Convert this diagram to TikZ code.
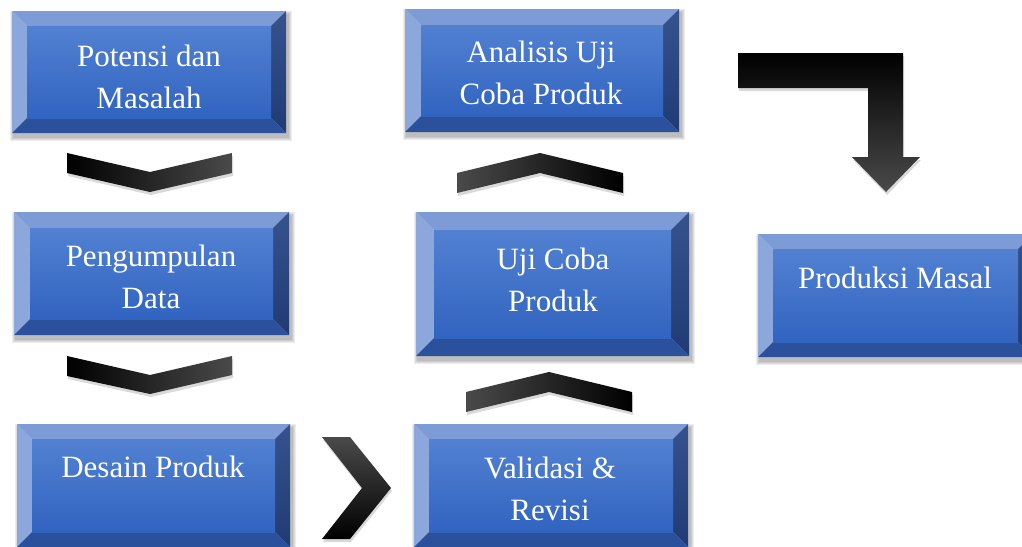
\documentclass[tikz,border=0pt]{standalone}
\usepackage{fontspec}
\setmainfont{Liberation Serif}
\usetikzlibrary{shadows}
\definecolor{faceT}{HTML}{5281D2}
\definecolor{faceB}{HTML}{3164C0}
\definecolor{bevT}{HTML}{7D9CD7}
\definecolor{bevL}{HTML}{8CA7DC}
\definecolor{bevRT}{HTML}{36538E}
\definecolor{bevRB}{HTML}{203B74}
\definecolor{bevB}{HTML}{2B509C}
\definecolor{chgrey}{HTML}{4A4A4A}
\tikzset{
  softshadow/.style={fill=black, opacity=0.07},
  chshadow/.style={drop shadow={shadow xshift=1pt, shadow yshift=-3pt, opacity=0.15, fill=black}},
  txt/.style={text=white, font=\fontsize{31}{42}\selectfont, align=center, anchor=base, inner sep=0pt},
  boxnode/.style={inner sep=0pt, draw=none},
}
\newcommand\bevbox[6]{%
  \foreach \s in {1,2,3,4}{
    \fill[softshadow] (#2+2-\s,#3+4-\s) rectangle (#4+2+\s,#5+4+\s);
  }
  \fill[bevT] (#2,#3) -- (#4,#3) -- (#4-#6,#3+#6) -- (#2+#6,#3+#6) -- cycle;
  \fill[bevL] (#2,#3) -- (#2+#6,#3+#6) -- (#2+#6,#5-#6) -- (#2,#5) -- cycle;
  \shade[top color=bevRT, bottom color=bevRB] (#4,#3) -- (#4,#5) -- (#4-#6,#5-#6) -- (#4-#6,#3+#6) -- cycle;
  \fill[bevB] (#2,#5) -- (#4,#5) -- (#4-#6,#5-#6) -- (#2+#6,#5-#6) -- cycle;
  \shade[top color=faceT, bottom color=faceB] (#2+#6,#3+#6) rectangle (#4-#6,#5-#6);
  \node[boxnode, minimum width={(#4-#2)*1pt}, minimum height={(#5-#3)*1pt}] (#1) at ({(#2+#4)/2},{(#3+#5)/2}) {};
}
\begin{document}
\begin{tikzpicture}[x=1pt,y=-1pt]
\useasboundingbox (0,0) rectangle (1022,546);
\clip (0,0) rectangle (1022,546);
\fill[white] (0,0) rectangle (1022,546);

% boxes
\bevbox{b1}{12}{11}{286}{133}{15}
\bevbox{b2}{14}{212}{289}{335}{16}
\bevbox{b3}{17}{424}{290}{547}{15}
\bevbox{b4}{414}{424}{688}{547}{15}
\bevbox{b5}{416}{212}{689}{356}{18}
\bevbox{b6}{405}{9}{679}{132}{16}
\bevbox{b7}{758}{234}{1033}{357}{15}

% texts (base anchor = last line's baseline)
\node[txt] (t1) at (149,108) {Potensi dan\\Masalah};
\node[txt] (t2) at (151,308) {Pengumpulan\\Data};
\node[txt] (t3) at (153,477) {Desain Produk};
\node[txt] (t4) at (550,520) {Validasi \&\\Revisi};
\node[txt] (t5) at (553,311) {Uji Coba\\Produk};
\node[txt] (t6) at (541,104) {Analisis Uji\\Coba Produk};
\node[txt] (t7) at (895,288) {Produksi Masal};

% down chevrons
\shade[chshadow, left color=black, middle color=black, right color=chgrey]
  (67,153) -- (150,172) -- (232,153) -- (232,173) -- (150,192) -- (67,173) -- cycle;
\shade[chshadow, left color=black, middle color=black, right color=chgrey]
  (67,356) -- (150,375) -- (232,356) -- (232,375) -- (150,394) -- (67,376) -- cycle;
% right chevron
\shade[chshadow, top color=chgrey, middle color=black, bottom color=black]
  (322,437) -- (350,437) -- (391,488) -- (350,539) -- (322,539) -- (362,488) -- cycle;
% up chevrons
\shade[chshadow, left color=chgrey, middle color=black, right color=black]
  (466,392) -- (549,372) -- (632,392) -- (632,412) -- (549,392) -- (466,412) -- cycle;
\shade[chshadow, left color=chgrey, middle color=black, right color=black]
  (457,173) -- (540,153) -- (623,173) -- (623,193) -- (540,173) -- (457,193) -- cycle;
% bent arrow
\shade[chshadow, top color=black, middle color=black, bottom color=chgrey]
  (738,53) -- (903,53) -- (903,157) -- (920,157) -- (886,192) -- (852,157) -- (868,157) -- (868,88) -- (738,88) -- cycle;
\end{tikzpicture}
\end{document}
